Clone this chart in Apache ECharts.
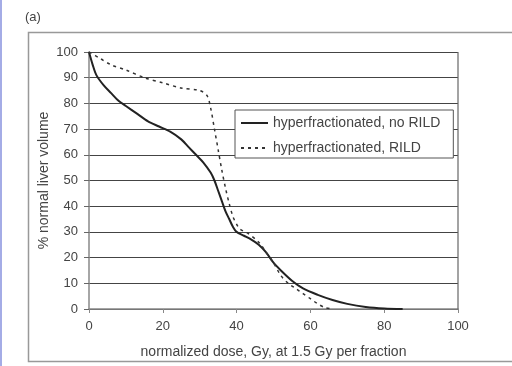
<!DOCTYPE html>
<html>
<head>
<meta charset="utf-8">
<script src="https://cdn.jsdelivr.net/npm/echarts@6/dist/echarts.min.js"></script>
<style>
  html, body { margin: 0; padding: 0; background: #fff; }
  #chart { width: 512px; height: 366px; }
</style>
</head>
<body>
<div id="chart"></div>
<script>
(function () {
    'use strict';

    // dose (Gy) vs % normal liver volume
    const noRildDose = [0, 1, 2, 4, 6, 8, 10, 13, 16, 19, 22, 25, 27, 29, 31, 33, 34, 35, 36, 37, 38, 39, 40, 42, 44, 46, 48, 50, 52, 55, 58, 62, 66, 70, 75, 80, 85];
    const noRildVolume = [100, 95, 91, 87, 84, 81, 79, 76, 73, 71, 69, 66, 63, 60, 57, 53, 50, 46, 42, 38, 35, 32, 30, 28.5, 27, 25, 22, 18, 15, 11, 8, 5.5, 3.5, 2, 0.8, 0.2, 0];

    const rildDose = [0, 3, 6, 10, 15, 20, 25, 30, 32, 33, 34, 35, 36, 37, 38, 39, 40, 41, 43, 46, 48, 50, 52, 54, 56, 58, 60, 62, 64, 66];
    const rildVolume = [100, 97.5, 95, 93, 90, 88, 86, 85, 83, 78, 70, 62, 54, 47, 41, 36, 33, 31, 29.5, 26, 22, 18, 13, 10, 8, 6, 4, 2, 0.5, 0];

    const seriesNames = ['hyperfractionated, no RILD', 'hyperfractionated, RILD'];

    function pairs (xs, ys) {
        return xs.map((x, i) => [x, ys[i]]);
    }

    const chart = echarts.init(document.getElementById('chart'));
    const textColor = '#444';
    const font = 'Liberation Sans';

    chart.setOption({
        animation: false,
        backgroundColor: '#fff',
        grid: { left: 89, right: 54, top: 52, bottom: 57 },
        graphic: [
            { type: 'rect', shape: { x: 0, y: 0, width: 2, height: 366 }, style: { fill: '#a4ace6' } },
            { type: 'rect', shape: { x: 28.5, y: 32.5, width: 500, height: 329 },
              style: { fill: 'none', stroke: '#999', lineWidth: 1.5 } },
            { type: 'text', left: 25, top: 11, style: { text: '(a)', fontSize: 13, fill: '#444', fontFamily: font } }
        ],
        legend: {
            orient: 'vertical',
            left: 235,
            top: 110,
            itemWidth: 27,
            itemHeight: 14,
            itemGap: 11,
            padding: [6, 13, 3, 5],
            borderColor: '#555',
            borderWidth: 1,
            borderRadius: 0,
            backgroundColor: '#fff',
            itemStyle: { opacity: 0 },
            textStyle: { color: textColor, fontSize: 14, fontFamily: font },
            data: seriesNames
        },
        xAxis: {
            type: 'value',
            min: 0,
            max: 100,
            interval: 20,
            name: 'normalized dose, Gy, at 1.5 Gy per fraction',
            nameLocation: 'middle',
            nameGap: 36,
            nameMoveOverlap: false,
            nameTextStyle: { color: textColor, fontSize: 14, fontFamily: font },
            axisLine: { lineStyle: { color: '#888', width: 1.5 } },
            axisTick: { show: true, length: 4, lineStyle: { color: '#888' } },
            axisLabel: { color: textColor, fontSize: 13, fontFamily: font, margin: 11 },
            splitLine: { show: false }
        },
        yAxis: {
            type: 'value',
            min: 0,
            max: 100,
            interval: 10,
            name: '% normal liver volume',
            nameLocation: 'middle',
            nameGap: 38,
            nameMoveOverlap: false,
            nameTextStyle: { color: textColor, fontSize: 14, fontFamily: font },
            axisLine: { show: true, lineStyle: { color: '#888', width: 1.5 } },
            axisTick: { show: true, length: 5, lineStyle: { color: '#666' } },
            axisLabel: { color: textColor, fontSize: 13, fontFamily: font, margin: 11 },
            splitLine: { show: true, lineStyle: { color: '#444', width: 1.2 } }
        },
        series: [
            {
                name: seriesNames[0],
                type: 'line',
                data: pairs(noRildDose, noRildVolume),
                smooth: 0.3,
                symbol: 'none',
                lineStyle: { color: '#222', width: 2 },
                itemStyle: { color: '#222' }
            },
            {
                name: seriesNames[1],
                type: 'line',
                data: pairs(rildDose, rildVolume),
                smooth: 0.3,
                symbol: 'none',
                lineStyle: { color: '#333', width: 1.5, type: [3, 4] },
                itemStyle: { color: '#333' }
            },
            {
                // right-hand plot border
                type: 'line',
                data: [[100, 0], [100, 100]],
                symbol: 'none',
                silent: true,
                lineStyle: { color: '#666', width: 1.2 }
            }
        ]
    });
}());
</script>
</body>
</html>
